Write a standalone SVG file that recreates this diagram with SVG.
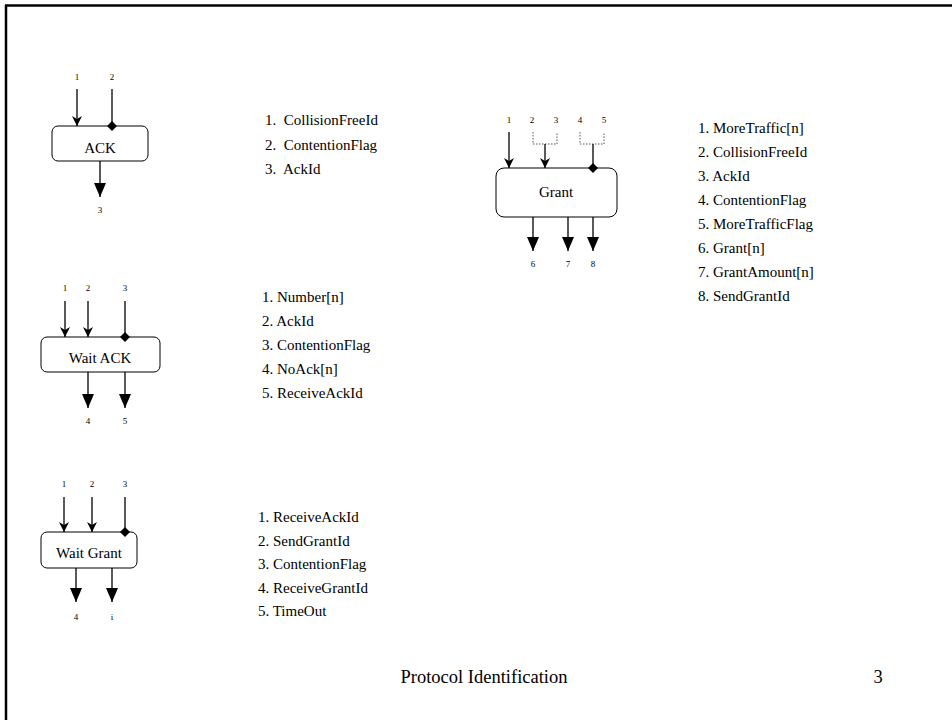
<svg xmlns="http://www.w3.org/2000/svg" width="952" height="720" viewBox="0 0 952 720">
<style>
text{font-family:'Liberation Serif','Times New Roman',Tinos,'DejaVu Serif',serif;fill:#000}
.box{fill:#fff;stroke:#000;stroke-width:1}
.lbl{font-size:15px;text-anchor:middle}
.num{font-size:9px;text-anchor:middle}
.lst{font-size:15px}
.ln{stroke:#000;stroke-width:1.3;fill:none}
.dot{stroke:#555;stroke-width:1;stroke-dasharray:1.5,1.5;fill:none}
</style>
<defs>
<marker id="in" viewBox="0 0 10 10" refX="10" refY="5" markerWidth="10" markerHeight="10" markerUnits="userSpaceOnUse" orient="auto">
<path d="M0,0 L10,5 L0,10 L3,5 Z" fill="#000"/>
</marker>
<marker id="out" viewBox="0 0 14 12" refX="14" refY="6" markerWidth="14" markerHeight="12" markerUnits="userSpaceOnUse" orient="auto">
<path d="M0,0 L14,6 L0,12 Z" fill="#000"/>
</marker>
<marker id="dia" viewBox="0 0 10 10" refX="5" refY="5" markerWidth="10" markerHeight="10" markerUnits="userSpaceOnUse" orient="auto">
<path d="M0,5 L5,0 L10,5 L5,10 Z" fill="#000"/>
</marker>
</defs>
<rect width="952" height="720" fill="#fff"/>
<g id="frame">
<line x1="5" y1="5.5" x2="952" y2="5.5" stroke="#000" stroke-width="2.5"/>
<line x1="6" y1="5" x2="6" y2="720" stroke="#000" stroke-width="2.5"/>
</g>
<g id="ack">
<rect class="box" x="52" y="126" width="96" height="35" rx="6"/>
<text class="lbl" x="100" y="153" font-family="Liberation Serif, serif">ACK</text>
<text class="num" x="77" y="80" font-family="Liberation Serif, serif">1</text>
<text class="num" x="112" y="80" font-family="Liberation Serif, serif">2</text>
<text class="num" x="100" y="213" font-family="Liberation Serif, serif">3</text>
</g>
<g id="grant">
<rect class="box" x="496" y="168" width="121" height="49" rx="8"/>
<text class="lbl" x="556" y="197" font-family="Liberation Serif, serif">Grant</text>
<text class="num" x="509" y="123" font-family="Liberation Serif, serif">1</text>
<text class="num" x="532" y="123" font-family="Liberation Serif, serif">2</text>
<text class="num" x="556" y="123" font-family="Liberation Serif, serif">3</text>
<text class="num" x="580" y="123" font-family="Liberation Serif, serif">4</text>
<text class="num" x="604" y="123" font-family="Liberation Serif, serif">5</text>
<text class="num" x="533" y="267" font-family="Liberation Serif, serif">6</text>
<text class="num" x="568" y="267" font-family="Liberation Serif, serif">7</text>
<text class="num" x="593" y="267" font-family="Liberation Serif, serif">8</text>
</g>
<g id="waitack">
<rect class="box" x="41" y="337" width="119" height="35" rx="6"/>
<text class="lbl" x="100" y="363" font-family="Liberation Serif, serif">Wait ACK</text>
<text class="num" x="65" y="291" font-family="Liberation Serif, serif">1</text>
<text class="num" x="88" y="291" font-family="Liberation Serif, serif">2</text>
<text class="num" x="125" y="291" font-family="Liberation Serif, serif">3</text>
<text class="num" x="88" y="424" font-family="Liberation Serif, serif">4</text>
<text class="num" x="125" y="424" font-family="Liberation Serif, serif">5</text>
</g>
<g id="waitgrant">
<rect class="box" x="41" y="532" width="96" height="36" rx="6"/>
<text class="lbl" x="89" y="558" font-family="Liberation Serif, serif">Wait Grant</text>
<text class="num" x="64" y="487" font-family="Liberation Serif, serif">1</text>
<text class="num" x="92" y="487" font-family="Liberation Serif, serif">2</text>
<text class="num" x="125" y="487" font-family="Liberation Serif, serif">3</text>
<text class="num" x="76" y="620" font-family="Liberation Serif, serif">4</text>
<text class="num" x="112" y="620" font-family="Liberation Serif, serif">i</text>
</g>
<g id="connectors">
<line class="ln" x1="77" y1="89" x2="77" y2="126" marker-end="url(#in)"/>
<line class="ln" x1="112" y1="89" x2="112" y2="126" marker-end="url(#dia)"/>
<line class="ln" x1="100" y1="161" x2="100" y2="197" marker-end="url(#out)"/>
<line class="ln" x1="509" y1="132" x2="509" y2="168" marker-end="url(#in)"/>
<path class="dot" d="M533,132 V144 H557 V132"/>
<line class="ln" x1="545" y1="144" x2="545" y2="168" marker-end="url(#in)"/>
<path class="dot" d="M580,132 V144 H604 V132"/>
<line class="ln" x1="593" y1="144" x2="593" y2="168" marker-end="url(#dia)"/>
<line class="ln" x1="533" y1="217" x2="533" y2="251" marker-end="url(#out)"/>
<line class="ln" x1="568" y1="217" x2="568" y2="251" marker-end="url(#out)"/>
<line class="ln" x1="593" y1="217" x2="593" y2="251" marker-end="url(#out)"/>
<line class="ln" x1="65" y1="301" x2="65" y2="337" marker-end="url(#in)"/>
<line class="ln" x1="88" y1="301" x2="88" y2="337" marker-end="url(#in)"/>
<line class="ln" x1="125" y1="301" x2="125" y2="337" marker-end="url(#dia)"/>
<line class="ln" x1="88" y1="372" x2="88" y2="408" marker-end="url(#out)"/>
<line class="ln" x1="125" y1="372" x2="125" y2="408" marker-end="url(#out)"/>
<line class="ln" x1="64" y1="497" x2="64" y2="532" marker-end="url(#in)"/>
<line class="ln" x1="92" y1="497" x2="92" y2="532" marker-end="url(#in)"/>
<line class="ln" x1="125" y1="497" x2="125" y2="532" marker-end="url(#dia)"/>
<line class="ln" x1="76" y1="568" x2="76" y2="602" marker-end="url(#out)"/>
<line class="ln" x1="112" y1="568" x2="112" y2="602" marker-end="url(#out)"/>
</g>
<g id="ack-list">
<text class="lst" x="265" y="125" font-family="Liberation Serif, serif" xml:space="preserve">1.  CollisionFreeId</text>
<text class="lst" x="265" y="150" font-family="Liberation Serif, serif" xml:space="preserve">2.  ContentionFlag</text>
<text class="lst" x="265" y="174" font-family="Liberation Serif, serif" xml:space="preserve">3.  AckId</text>
</g>
<g id="grant-list">
<text class="lst" x="698" y="133" font-family="Liberation Serif, serif">1. MoreTraffic[n]</text>
<text class="lst" x="698" y="157" font-family="Liberation Serif, serif">2. CollisionFreeId</text>
<text class="lst" x="698" y="181" font-family="Liberation Serif, serif">3. AckId</text>
<text class="lst" x="698" y="205" font-family="Liberation Serif, serif">4. ContentionFlag</text>
<text class="lst" x="698" y="229" font-family="Liberation Serif, serif">5. MoreTrafficFlag</text>
<text class="lst" x="698" y="253" font-family="Liberation Serif, serif">6. Grant[n]</text>
<text class="lst" x="698" y="277" font-family="Liberation Serif, serif">7. GrantAmount[n]</text>
<text class="lst" x="698" y="301" font-family="Liberation Serif, serif">8. SendGrantId</text>
</g>
<g id="waitack-list">
<text class="lst" x="262" y="302" font-family="Liberation Serif, serif">1. Number[n]</text>
<text class="lst" x="262" y="326" font-family="Liberation Serif, serif">2. AckId</text>
<text class="lst" x="262" y="350" font-family="Liberation Serif, serif">3. ContentionFlag</text>
<text class="lst" x="262" y="374" font-family="Liberation Serif, serif">4. NoAck[n]</text>
<text class="lst" x="262" y="398" font-family="Liberation Serif, serif">5. ReceiveAckId</text>
</g>
<g id="waitgrant-list">
<text class="lst" x="258" y="522" font-family="Liberation Serif, serif">1. ReceiveAckId</text>
<text class="lst" x="258" y="546" font-family="Liberation Serif, serif">2. SendGrantId</text>
<text class="lst" x="258" y="569" font-family="Liberation Serif, serif">3. ContentionFlag</text>
<text class="lst" x="258" y="593" font-family="Liberation Serif, serif">4. ReceiveGrantId</text>
<text class="lst" x="258" y="616" font-family="Liberation Serif, serif">5. TimeOut</text>
</g>
<g id="footer">
<text x="484" y="683" font-family="Liberation Serif, serif" style="font-size:18.5px;text-anchor:middle">Protocol Identification</text>
<text x="878" y="683" font-family="Liberation Serif, serif" style="font-size:18.5px;text-anchor:middle">3</text>
</g>
</svg>
